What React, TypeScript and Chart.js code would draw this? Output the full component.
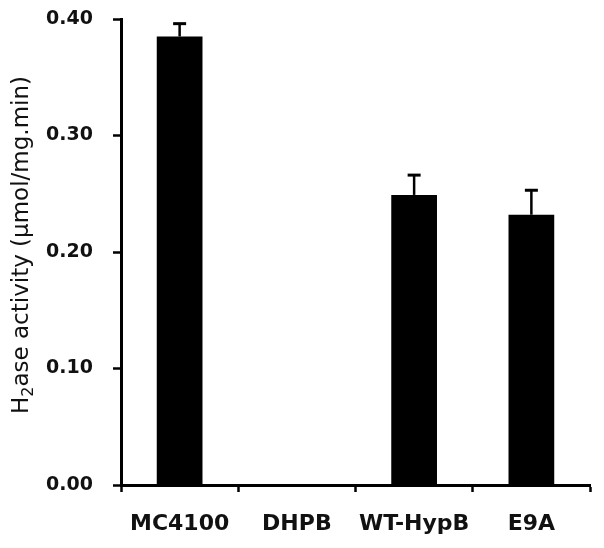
import React, { useEffect, useRef } from 'react';
import { Chart, registerables } from 'chart.js';

Chart.register(...registerables);

const categories = ['MC4100', 'DHPB', 'WT-HypB', 'E9A'];
const activity = [0.385, 0, 0.249, 0.232];
const errors = [0.011, 0, 0.017, 0.021];
const yTicks = [0, 0.1, 0.2, 0.3, 0.4];
const titleMain = 'H';
const titleSub = '2';
const titleRest = 'ase activity (µmol/mg.min)';

const FONT = '"DejaVu Sans", "Liberation Sans", Arial, sans-serif';
const INK = '#111111';

const errorBarPlugin = {
  id: 'errorBars',
  afterDatasetsDraw(chart: any) {
    const meta = chart.getDatasetMeta(0);
    const yScale = chart.scales.y;
    const ctx = chart.ctx;
    ctx.save();
    ctx.strokeStyle = '#000';
    meta.data.forEach((bar: any, i: number) => {
      const e = errors[i];
      if (!e) return;
      const x = bar.x;
      const yTop = bar.y;
      const yErr = yScale.getPixelForValue(activity[i] + e);
      ctx.lineWidth = 2.5;
      ctx.beginPath();
      ctx.moveTo(x, yTop);
      ctx.lineTo(x, yErr);
      ctx.stroke();
      ctx.lineWidth = 3;
      ctx.beginPath();
      ctx.moveTo(x - 6.5, yErr);
      ctx.lineTo(x + 6.5, yErr);
      ctx.stroke();
    });
    ctx.restore();
  },
};

const yTitlePlugin = {
  id: 'yTitleSub',
  afterDraw(chart: any) {
    const ctx = chart.ctx;
    ctx.save();
    const big = `23px ${FONT}`;
    const small = `16px ${FONT}`;
    ctx.font = big;
    const wH = ctx.measureText(titleMain).width;
    const wRest = ctx.measureText(titleRest).width;
    ctx.font = small;
    const wSub = ctx.measureText(titleSub).width;
    const total = wH + wSub + wRest;
    const cy = (chart.chartArea.top + chart.chartArea.bottom) / 2 - 7;
    ctx.translate(28, cy);
    ctx.rotate(-Math.PI / 2);
    ctx.fillStyle = INK;
    ctx.textBaseline = 'alphabetic';
    ctx.textAlign = 'left';
    let x = -total / 2;
    ctx.font = big;
    ctx.fillText(titleMain, x, 0);
    x += wH;
    ctx.font = small;
    ctx.fillText(titleSub, x, 5);
    x += wSub;
    ctx.font = big;
    ctx.fillText(titleRest, x, 0);
    ctx.restore();
  },
};

export default function App() {
  const ref = useRef<HTMLCanvasElement | null>(null);
  useEffect(() => {
    if (!ref.current) return;
    const chart = new Chart(ref.current, {
      type: 'bar',
      data: {
        labels: categories,
        datasets: [
          {
            data: activity,
            backgroundColor: '#000000',
            borderWidth: 0,
            barPercentage: 0.39,
            categoryPercentage: 1,
          },
        ],
      },
      options: {
        responsive: false,
        animation: false,
        devicePixelRatio: 1,
        layout: { padding: { top: 19, right: 14, left: 0, bottom: 0 } },
        plugins: {
          legend: { display: false },
          tooltip: { enabled: false },
          title: { display: false },
        },
        scales: {
          x: {
            grid: {
              display: true,
              offset: true,
              drawOnChartArea: false,
              drawTicks: true,
              tickLength: 7,
              tickWidth: 2.5,
              tickColor: '#000',
            },
            border: { display: true, color: '#000', width: 3 },
            ticks: {
              color: INK,
              font: { family: FONT, size: 22, weight: 'bold' },
              padding: 19,
              maxRotation: 0,
            },
            afterFit(scale: any) {
              scale.height = 63;
              scale.paddingLeft = 0;
              scale.paddingRight = 0;
            },
          },
          y: {
            min: 0,
            max: 0.4,
            grid: {
              display: true,
              drawOnChartArea: false,
              drawTicks: true,
              tickLength: 8,
              tickWidth: 2.5,
              tickColor: '#000',
            },
            border: { display: true, color: '#000', width: 3 },
            ticks: {
              color: INK,
              font: { family: FONT, size: 19, weight: 'bold' },
              padding: 20,
              callback: (v: any) => Number(v).toFixed(2),
            },
            afterBuildTicks(scale: any) {
              scale.ticks = yTicks.map((v) => ({ value: v }));
            },
            afterFit(scale: any) {
              scale.width = 121;
              scale.paddingTop = 0;
              scale.paddingBottom = 0;
            },
          },
        },
      },
      plugins: [errorBarPlugin, yTitlePlugin],
    });
    return () => chart.destroy();
  }, []);
  return (
    <div style={{ position: 'absolute', left: 0, top: 0, width: 604, height: 548, background: '#fff' }}>
      <canvas ref={ref} width={604} height={548} style={{ display: 'block' }} />
    </div>
  );
}
